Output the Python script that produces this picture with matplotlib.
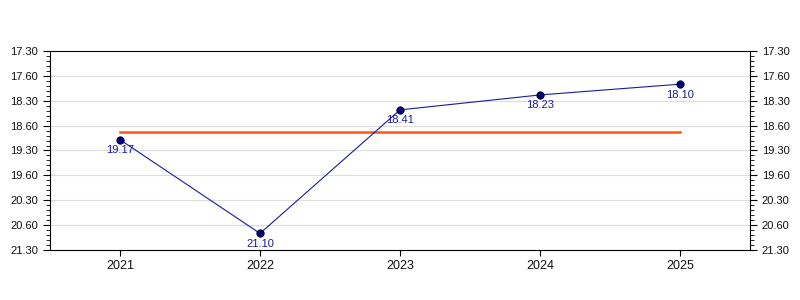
import matplotlib.pyplot as plt
import numpy as np

plt.rcParams['font.family'] = ['Liberation Sans', 'DejaVu Sans']

years = ['2021', '2022', '2023', '2024', '2025']
# times as min.sec
times = ['19.17', '21.10', '18.41', '18.23', '18.10']
ytick_vals = [17.5, 18.0, 18.5, 19.0, 19.5, 20.0, 20.5, 21.0, 21.5]
ytick_labels = ['17.30', '17.60', '18.30', '18.60', '19.30',
                '19.60', '20.30', '20.60', '21.30']


def to_minutes(s):
    m, sec = s.split('.')
    return int(m) + int(sec) / 60.0


vals = np.array([to_minutes(t) for t in times])
avg = vals.mean()
x = np.arange(len(years))

fig = plt.figure(figsize=(8, 3), dpi=100)
ax = fig.add_axes([0.0625, 0.1667, 0.875, 0.6633])

ax.plot(x, vals, color='#1a1aa6', lw=0.8, zorder=3)
ax.scatter(x, vals, s=28, color='#000080', edgecolor='black', lw=0.6, zorder=4)
ax.plot([x[0], x[-1]], [avg, avg], color='#ff5511', lw=1.8, zorder=2)

for xi, v, t in zip(x, vals, times):
    ax.annotate(t, (xi, v), xytext=(0, -4), textcoords='offset points',
                ha='center', va='top', fontsize=8, color='#1a1a99', zorder=5)

ax.set_xlim(-0.5, len(years) - 0.5)
ax.set_ylim(21.5, 17.5)
ax.set_xticks(x)
ax.set_xticklabels(years, fontsize=9, color='#111111')
ax.set_yticks(ytick_vals)
ax.set_yticklabels(ytick_labels, fontsize=8, color='#111111')
ax.set_yticks(np.arange(17.5, 21.5, 0.1), minor=True)
ax.tick_params(axis='y', which='both', left=True, right=True,
               labelleft=True, labelright=True)
ax.tick_params(axis='y', which='major', length=5, width=0.8)
ax.tick_params(axis='y', which='minor', length=3, width=0.6)
ax.tick_params(axis='x', length=4, width=0.8)
ax.grid(axis='y', which='major', color='#dddddd', lw=0.8)
ax.set_axisbelow(True)
for sp in ['left', 'right', 'bottom', 'top']:
    ax.spines[sp].set_linewidth(0.8)

fig.savefig('out.png', dpi=100)
